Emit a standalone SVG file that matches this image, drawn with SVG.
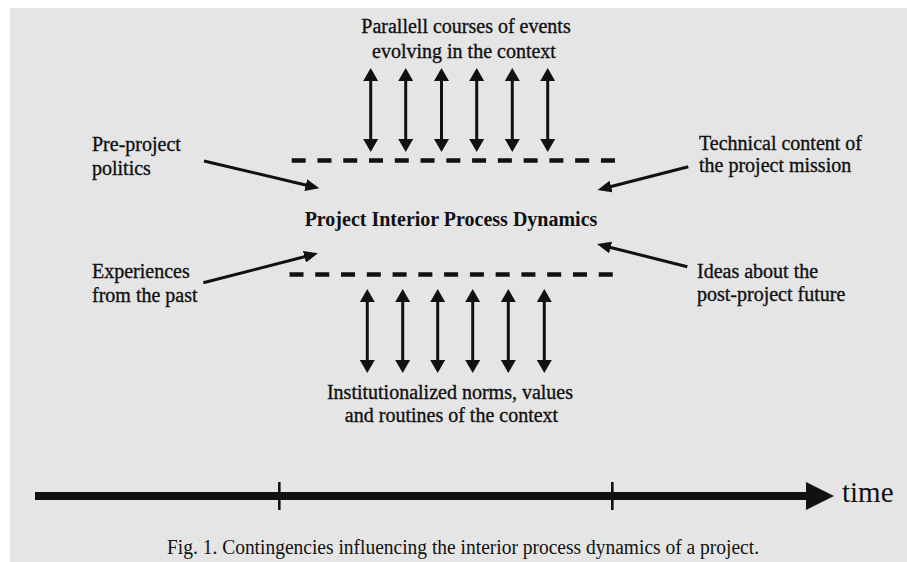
<svg xmlns="http://www.w3.org/2000/svg" width="907" height="562" viewBox="0 0 907 562">
  <style>
    .lbl { font-family: "Liberation Serif", "Times New Roman", serif; font-size: 20px; fill: #111; }
    .heavy { stroke: #111; stroke-width: 0.35; }
    .ctr { text-anchor: middle; }
    .bold { font-weight: bold; }
    .conn { stroke: #111; stroke-width: 3; fill: none; }
    .dash { stroke: #111; stroke-width: 4.5; fill: none; stroke-dasharray: 14 11.77; }
  </style>
  <defs>
    <marker id="vhead" markerUnits="userSpaceOnUse" markerWidth="14" markerHeight="15" refX="1" refY="7.5" orient="auto-start-reverse">
      <path d="M0,0 L13,7.5 L0,15 z" fill="#111"/>
    </marker>
    <marker id="dhead" markerUnits="userSpaceOnUse" markerWidth="15" markerHeight="12" refX="1" refY="6" orient="auto">
      <path d="M0,0 L14,6 L0,12 z" fill="#111"/>
    </marker>
  </defs>

  <rect x="0" y="0" width="907" height="562" fill="#ffffff"/>
  <rect x="10" y="8" width="897" height="554" fill="#e5e5e5"/>

  <g id="parallel-courses">
    <text class="lbl ctr heavy" x="466" y="33">Parallell courses of events</text>
    <text class="lbl ctr heavy" x="464" y="58">evolving in the context</text>
  </g>
  <g id="project-interior">
    <text class="lbl ctr bold" x="451" y="226">Project Interior Process Dynamics</text>
  </g>
  <g id="institutionalized-norms">
    <text class="lbl ctr heavy" x="450" y="399">Institutionalized norms, values</text>
    <text class="lbl ctr heavy" x="451.5" y="422">and routines of the context</text>
  </g>
  <g id="pre-project-politics">
    <text class="lbl heavy" x="92" y="151">Pre-project</text>
    <text class="lbl heavy" x="92" y="175">politics</text>
  </g>
  <g id="experiences">
    <text class="lbl heavy" x="92" y="278">Experiences</text>
    <text class="lbl heavy" x="92" y="302">from the past</text>
  </g>
  <g id="technical-content">
    <text class="lbl heavy" x="699" y="150">Technical content of</text>
    <text class="lbl heavy" x="699" y="172">the project mission</text>
  </g>
  <g id="ideas-future">
    <text class="lbl heavy" x="697" y="278">Ideas about the</text>
    <text class="lbl heavy" x="697" y="301">post-project future</text>
  </g>
  <g id="time-label">
    <text class="lbl" x="842" y="502" style="font-size:29px">time</text>
  </g>
  <g id="caption">
    <text class="lbl" x="167" y="554" textLength="592" lengthAdjust="spacingAndGlyphs">Fig. 1. Contingencies influencing the interior process dynamics of a project.</text>
  </g>

  <g id="connectors">
    <path class="dash" d="M291.7 160.5 H615"/>
    <path class="dash" d="M289.5 274.5 H613"/>
    <path class="conn" d="M370.7 80 V140" marker-start="url(#vhead)" marker-end="url(#vhead)"/>
    <path class="conn" d="M405.7 80 V140" marker-start="url(#vhead)" marker-end="url(#vhead)"/>
    <path class="conn" d="M441.5 80 V140" marker-start="url(#vhead)" marker-end="url(#vhead)"/>
    <path class="conn" d="M476.7 80 V140" marker-start="url(#vhead)" marker-end="url(#vhead)"/>
    <path class="conn" d="M512.3 80 V140" marker-start="url(#vhead)" marker-end="url(#vhead)"/>
    <path class="conn" d="M547.7 80 V140" marker-start="url(#vhead)" marker-end="url(#vhead)"/>
    <path class="conn" d="M367.3 301 V361" marker-start="url(#vhead)" marker-end="url(#vhead)"/>
    <path class="conn" d="M402.7 301 V361" marker-start="url(#vhead)" marker-end="url(#vhead)"/>
    <path class="conn" d="M437.7 301 V361" marker-start="url(#vhead)" marker-end="url(#vhead)"/>
    <path class="conn" d="M472.7 301 V361" marker-start="url(#vhead)" marker-end="url(#vhead)"/>
    <path class="conn" d="M508.3 301 V361" marker-start="url(#vhead)" marker-end="url(#vhead)"/>
    <path class="conn" d="M544.3 301 V361" marker-start="url(#vhead)" marker-end="url(#vhead)"/>
    <path class="conn" d="M204 161 L306.7 185.3" marker-end="url(#dhead)"/>
    <path class="conn" d="M203.3 282.7 L305.4 256.5" marker-end="url(#dhead)"/>
    <path class="conn" d="M688.3 166.7 L610.1 186.8" marker-end="url(#dhead)"/>
    <path class="conn" d="M687.3 266.7 L609.6 247.2" marker-end="url(#dhead)"/>
    <path d="M35 496 H808" stroke="#111" stroke-width="8" fill="none"/>
    <path d="M806 482 L834 496 L806 510 z" fill="#111"/>
    <path d="M279.3 482 V510 M612.3 482 V510" stroke="#111" stroke-width="2.6" fill="none"/>
  </g>
</svg>
